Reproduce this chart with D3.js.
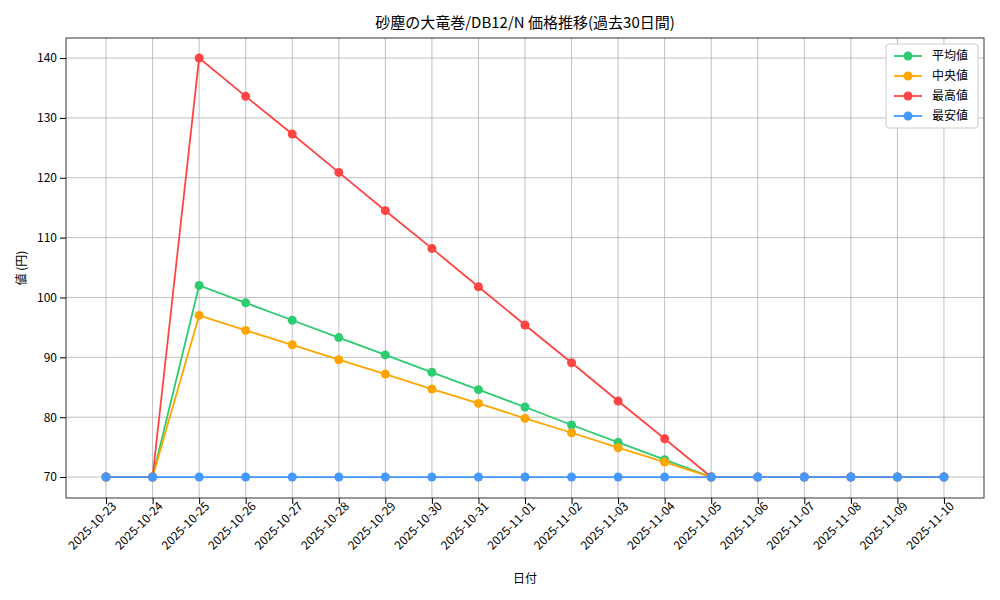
<!DOCTYPE html>
<html><head><meta charset="utf-8">
<script src="https://cdn.jsdelivr.net/npm/d3@7"></script>
<style>body{margin:0;background:#fff}text{font-family:"Noto Sans CJK JP",sans-serif}</style>
</head><body><svg id="c" width="1000" height="600"></svg>
<script>
const dates=["2025-10-23","2025-10-24","2025-10-25","2025-10-26","2025-10-27","2025-10-28","2025-10-29","2025-10-30","2025-10-31","2025-11-01","2025-11-02","2025-11-03","2025-11-04","2025-11-05","2025-11-06","2025-11-07","2025-11-08","2025-11-09","2025-11-10"];
const meanVals=[70,70,102,99.1,96.2,93.3,90.4,87.5,84.6,81.7,78.7,75.8,72.9,70,70,70,70,70,70];
const medianVals=[70,70,97,94.5,92.1,89.6,87.2,84.7,82.3,79.8,77.4,74.9,72.5,70];
const maxVals=[70,70,140,133.6,127.3,120.9,114.5,108.2,101.8,95.4,89.1,82.7,76.4,70,70,70,70,70,70];
const minVals=[70,70,70,70,70,70,70,70,70,70,70,70,70,70,70,70,70,70,70];
const yTicks=[70,80,90,100,110,120,130,140];
const series=[["平均値",meanVals,"#2ecc71"],["中央値",medianVals,"#ffa500"],["最高値",maxVals,"#ff4444"],["最安値",minVals,"#4499ff"]];
const L=66,R=984,T=38,B=498;
const svg=d3.select("#c");
const x=d3.scaleLinear().domain([-0.86,dates.length-1+0.86]).range([L,R]);
const y=d3.scaleLinear().domain([66.5,143.35]).range([B,T]);
const g=svg.append("g");
g.selectAll(".gx").data(dates).join("line").attr("x1",(d,i)=>x(i)).attr("x2",(d,i)=>x(i)).attr("y1",T).attr("y2",B).attr("stroke","#b0b0b0").attr("stroke-width",0.8);
g.selectAll(".gy").data(yTicks).join("line").attr("x1",L).attr("x2",R).attr("y1",d=>y(d)).attr("y2",d=>y(d)).attr("stroke","#b0b0b0").attr("stroke-width",0.8);
const xa=svg.append("g").attr("transform",`translate(0,${B})`).call(d3.axisBottom(x).tickValues(d3.range(dates.length)).tickFormat(i=>dates[i]).tickSizeOuter(0));
xa.selectAll("text").attr("transform","rotate(-45)").attr("text-anchor","end").attr("dx","0.1em").attr("dy","0.4em").style("font-size","12px").attr("fill","#000");
const ya=svg.append("g").attr("transform",`translate(${L},0)`).call(d3.axisLeft(y).tickValues(yTicks).tickSizeOuter(0));
ya.selectAll("text").style("font-size","12px").attr("fill","#000");
svg.selectAll(".domain").remove();
svg.append("rect").attr("x",L).attr("y",T).attr("width",R-L).attr("height",B-T).attr("fill","none").attr("stroke","#000").attr("stroke-width",0.8);
for(const [n,v,c] of series){
  const gs=svg.append("g");
  gs.append("path").datum(v).attr("fill","none").attr("stroke",c).attr("stroke-width",1.8).attr("d",d3.line().x((d,i)=>x(i)).y(d=>y(d)));
  gs.selectAll("circle").data(v).join("circle").attr("cx",(d,i)=>x(i)).attr("cy",d=>y(d)).attr("r",4.5).attr("fill",c);
}
svg.append("text").attr("x",(L+R)/2).attr("y",28).attr("text-anchor","middle").style("font-size","15px").text("砂塵の大竜巻/DB12/N 価格推移(過去30日間)");
svg.append("text").attr("x",(L+R)/2).attr("y",583).attr("text-anchor","middle").style("font-size","12px").text("日付");
svg.append("text").attr("transform",`translate(26,${(T+B)/2}) rotate(-90)`).attr("text-anchor","middle").style("font-size","12px").text("値 (円)");
const lg=svg.append("g").attr("transform","translate(886,44)");
lg.append("rect").attr("width",92).attr("height",84).attr("rx",3).attr("fill","#fff").attr("stroke","#ccc");
series.forEach(([n,v,c],i)=>{
  const yy=12+i*20;
  lg.append("line").attr("x1",8).attr("x2",36).attr("y1",yy).attr("y2",yy).attr("stroke",c).attr("stroke-width",1.8);
  lg.append("circle").attr("cx",22).attr("cy",yy).attr("r",4.5).attr("fill",c);
  lg.append("text").attr("x",46).attr("y",yy+4).style("font-size","12px").text(n);
});
</script></body></html>
